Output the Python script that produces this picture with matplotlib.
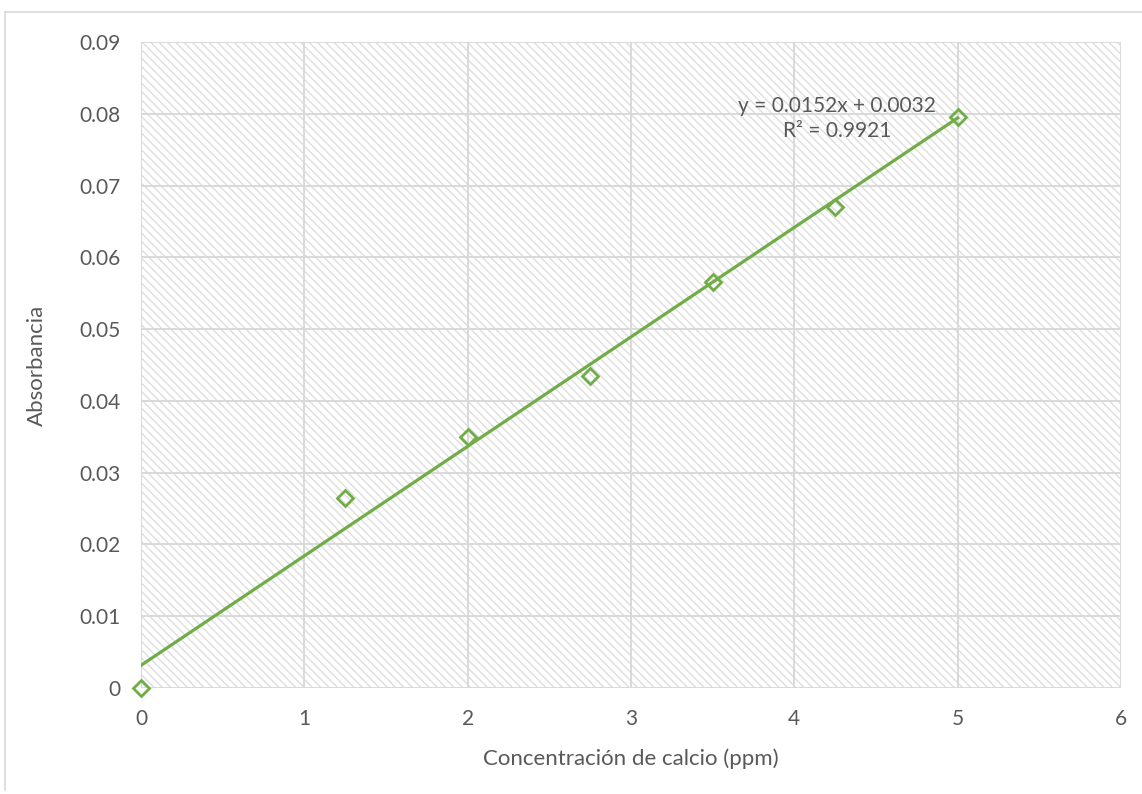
import numpy as np
import matplotlib.pyplot as plt
from matplotlib.lines import Line2D

# Datos de la curva de calibración
concentracion = [0, 1.25, 2, 2.75, 3.5, 4.25, 5]
absorbancia = [0.0, 0.0265, 0.035, 0.0435, 0.0566, 0.067, 0.0795]
xticks = [0, 1, 2, 3, 4, 5, 6]
yticks = [0, 0.01, 0.02, 0.03, 0.04, 0.05, 0.06, 0.07, 0.08, 0.09]
ytick_labels = ['0', '0.01', '0.02', '0.03', '0.04', '0.05', '0.06', '0.07', '0.08', '0.09']
ecuacion = 'y = 0.0152x + 0.0032\nR² = 0.9921'

verde = '#70AD47'
gris_texto = '#595959'
gris_rejilla = '#D9D9D9'
tam = 15

plt.rcParams['font.family'] = ['Lato', 'DejaVu Sans']
plt.rcParams['hatch.color'] = '#DEDEDE'
plt.rcParams['hatch.linewidth'] = 1.0

fig = plt.figure(figsize=(11.42, 7.94), dpi=100)
ax = fig.add_axes([141 / 1142, 1 - 688 / 794, 980 / 1142, 646 / 794])

# Fondo rayado del área de trazado
ax.patch.set_facecolor('white')
ax.patch.set_hatch('\\\\\\\\')
ax.patch.set_edgecolor('#DEDEDE')
ax.patch.set_linewidth(0)

# Recta de tendencia
pend, inter = np.polyfit(concentracion, absorbancia, 1)
xs = np.array([0, max(concentracion)])
ax.plot(xs, pend * xs + inter, color=verde, lw=2.3, zorder=3)

# Puntos
ax.plot(concentracion, absorbancia, linestyle='none', marker='D', ms=8,
        mfc='none', mec=verde, mew=2, zorder=4, clip_on=False)

ax.text(4.26, 0.0793, ecuacion, ha='center', va='center', fontsize=tam,
        color=gris_texto, linespacing=1.3, zorder=5)

ax.set_xlim(0, 6)
ax.set_ylim(0, 0.09)
ax.set_xticks(xticks)
ax.set_yticks(yticks)
ax.set_yticklabels(ytick_labels)
ax.grid(True, color=gris_rejilla, lw=1.4)
ax.set_axisbelow(True)
for s in ax.spines.values():
    s.set_visible(False)
ax.tick_params(length=0, labelsize=tam, labelcolor=gris_texto)
ax.tick_params(axis='x', pad=15)
ax.tick_params(axis='y', pad=15)

ax.set_xlabel('Concentración de calcio (ppm)', fontsize=16, color=gris_texto, labelpad=14)
ax.set_ylabel('Absorbancia', fontsize=16, color=gris_texto, labelpad=23)

# Marco del gráfico
fig.add_artist(Line2D([5 / 1142, 5 / 1142], [1 - 790 / 794, 1 - 12 / 794],
                      transform=fig.transFigure, color=gris_rejilla, lw=1.2))
fig.add_artist(Line2D([5 / 1142, 1.0], [1 - 12 / 794, 1 - 12 / 794],
                      transform=fig.transFigure, color=gris_rejilla, lw=1.2))

fig.savefig('out.png', dpi=100)
